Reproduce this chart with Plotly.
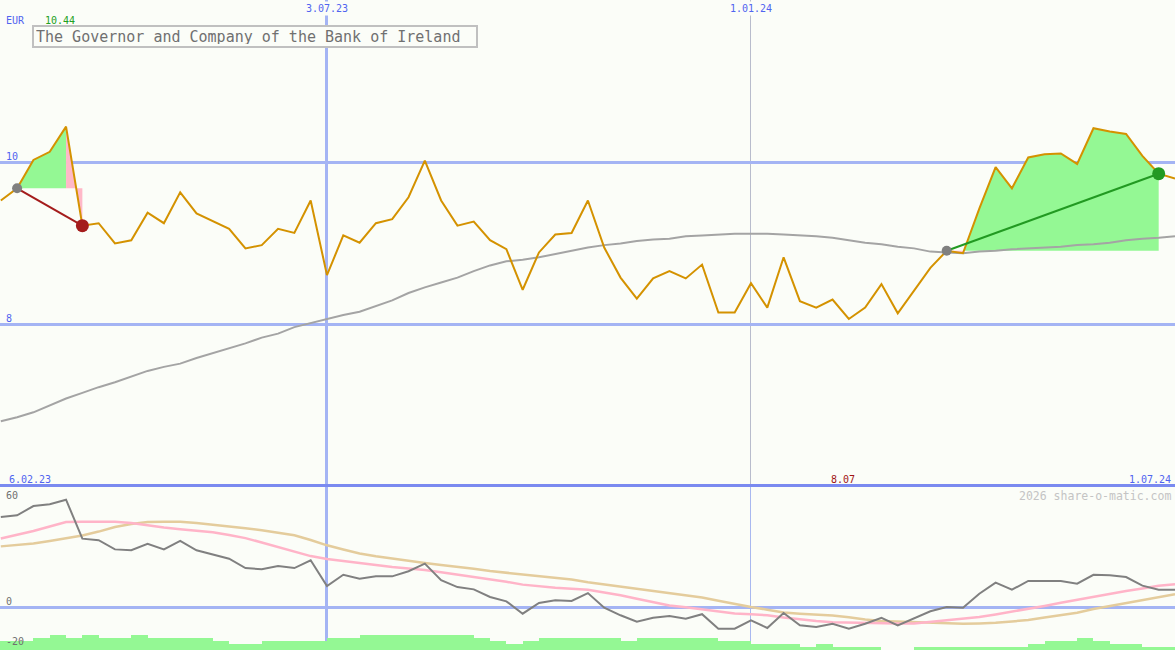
import pandas as pd
import plotly.graph_objects as go

# ---------------- data (weekly, Mondays) ----------------
dates = [d.strftime("%Y-%m-%d") for d in pd.date_range("2023-02-13", periods=73, freq="7D")]

price = [9.53, 9.68, 10.03, 10.13, 10.44, 9.22, 9.25, 9.00, 9.04, 9.38,
         9.25, 9.63, 9.37, 9.27, 9.18, 8.94, 8.98, 9.18, 9.13, 9.53,
         8.61, 9.10, 9.01, 9.25, 9.30, 9.57, 10.02, 9.53, 9.22, 9.27,
         9.04, 8.93, 8.43, 8.89, 9.11, 9.13, 9.53, 8.95, 8.58, 8.32,
         8.57, 8.66, 8.57, 8.74, 8.15, 8.15, 8.51, 8.21, 8.83, 8.29,
         8.21, 8.31, 8.07, 8.21, 8.50, 8.14, 8.42, 8.70, 8.91, 8.88,
         9.43, 9.94, 9.68, 10.06, 10.10, 10.11, 9.98, 10.42, 10.38, 10.35,
         10.08, 9.86, 9.80]

moving_avg = [6.81, 6.86, 6.92, 7.01, 7.09, 7.16, 7.23, 7.29, 7.36, 7.43,
              7.48, 7.52, 7.59, 7.65, 7.71, 7.77, 7.84, 7.89, 7.97, 8.02,
              8.07, 8.12, 8.16, 8.23, 8.30, 8.39, 8.46, 8.52, 8.58, 8.66,
              8.73, 8.78, 8.80, 8.83, 8.87, 8.91, 8.95, 8.98, 9.00, 9.03,
              9.05, 9.06, 9.09, 9.10, 9.11, 9.12, 9.12, 9.12, 9.11, 9.10,
              9.09, 9.07, 9.04, 9.01, 8.99, 8.96, 8.94, 8.90, 8.89, 8.88,
              8.90, 8.91, 8.93, 8.94, 8.95, 8.96, 8.98, 8.99, 9.01, 9.04,
              9.06, 9.07, 9.09]

oscillator = [51.5, 52.4, 57.7, 58.7, 61.3, 39.2, 38.3, 33.1, 32.6, 36.3,
              33.1, 37.9, 32.6, 30.1, 27.8, 22.5, 21.8, 23.7, 22.5, 26.9,
              12.3, 18.7, 16.5, 17.8, 17.8, 20.7, 25.0, 15.6, 11.7, 10.4,
              6.1, 3.6, -3.4, 2.7, 4.2, 3.8, 8.3, 0.0, -4.3, -7.9,
              -5.7, -4.7, -6.2, -3.7, -11.9, -11.9, -7.2, -11.5, -3.0, -10.0,
              -11.0, -9.1, -11.9, -9.1, -5.7, -10.0, -6.2, -2.0, 0.4, 0.0,
              7.9, 14.2, 10.2, 15.2, 15.2, 15.2, 13.6, 18.7, 18.4, 17.4,
              12.5, 10.2, 10.2]

signal_fast = [39.3, 41.3, 43.5, 46.1, 48.6, 48.8, 48.8, 48.8, 48.1, 46.7,
               45.5, 44.5, 43.6, 42.8, 41.3, 39.5, 37.0, 34.4, 31.6, 29.3,
               27.6, 26.4, 25.2, 24.1, 23.1, 22.2, 21.4, 20.1, 18.8, 17.7,
               16.3, 14.7, 13.1, 12.0, 11.3, 10.7, 10.2, 8.6, 7.1, 5.1,
               3.0, 1.2, 0.2, -0.9, -2.2, -3.3, -3.7, -4.3, -5.6, -6.7,
               -7.5, -8.2, -8.5, -8.7, -8.9, -9.0, -8.9, -8.0, -7.3, -6.4,
               -5.3, -3.8, -2.3, -0.6, 1.0, 2.8, 4.5, 6.5, 8.1, 9.5,
               10.9, 12.5, 13.3]

signal_slow = [34.8, 35.7, 36.5, 37.9, 39.3, 41.0, 43.2, 45.8, 47.5, 48.6,
               48.8, 48.8, 48.1, 47.2, 46.1, 45.1, 43.9, 42.7, 41.1, 38.4,
               35.4, 33.0, 30.8, 29.2, 27.8, 26.5, 25.4, 24.3, 23.3, 22.1,
               20.8, 19.8, 18.8, 17.8, 17.0, 16.0, 14.4, 13.2, 11.8, 10.6,
               9.4, 8.2, 7.0, 5.8, 4.0, 2.1, 0.4, -1.1, -2.7, -3.4,
               -3.9, -4.4, -5.4, -6.7, -7.5, -7.9, -8.3, -8.6, -8.9, -9.1,
               -8.9, -8.6, -7.8, -7.0, -5.6, -4.4, -2.9, -0.7, 1.0, 2.4,
               4.0, 5.8, 7.6]

volume = [3, 3, 3, 4, 5, 4, 5, 4, 4, 5,
          4, 4, 4, 4, 3, 2, 2, 3, 3, 3,
          3, 4, 4, 5, 5, 5, 5, 5, 5, 5,
          4, 3, 2, 3, 4, 4, 4, 4, 4, 3,
          4, 4, 4, 4, 4, 3, 3, 2, 2, 2,
          1, 2, 1, 1, 1, 0, 0, 1, 1, 1,
          1, 1, 1, 1, 2, 3, 3, 4, 3, 2,
          2, 1, 1]

# performance windows (start index, end index) into the weekly arrays
windows = [(1, 5), (58, 71)]

price_ticks = [8, 10]
osc_ticks = [60, 0, -20]
grid_major_date = "2023-07-03"
grid_minor_date = "2024-01-01"
title_text = "The Governor and Company of the Bank of Ireland"

# ---------------- styling ----------------
BG = "#fbfdf8"
FONT = "DejaVu Sans Mono"
BLUE_TXT = "#5064f0"
GRID = "#a4b4f4"
GREEN_FILL = "#94f894"
PINK_FILL = "#ffb8c8"
PRICE_COL = "#d49200"

H = 650
split = 1 - 487 / H

fig = go.Figure()

# ---- performance fills (segment-wise, colour by direction of segment end) ----
for i0, i1 in windows:
    base = price[i0]
    runs = []
    for i in range(i0, i1):
        up = price[i + 1] >= base
        if runs and runs[-1][0] == up:
            runs[-1][2] = i + 1
        else:
            runs.append([up, i, i + 1])
    gx, gy, px_, py_ = [], [], [], []
    for up, a, b in runs:
        xs = [dates[a]] + dates[a:b + 1] + [dates[b], dates[a]]
        ys = [base] + price[a:b + 1] + [base, base]
        if up:
            gx += xs + [None]; gy += ys + [None]
        else:
            px_ += xs + [None]; py_ += ys + [None]
    for xs, ys, col in ((gx, gy, GREEN_FILL), (px_, py_, PINK_FILL)):
        if xs:
            fig.add_trace(go.Scatter(x=xs, y=ys, mode="lines", fill="toself",
                                     fillcolor=col, line=dict(width=0, color=col),
                                     hoverinfo="skip", xaxis="x", yaxis="y"))

# ---- moving average ----
fig.add_trace(go.Scatter(x=dates, y=moving_avg, mode="lines",
                         line=dict(color="#a4a4a4", width=2), xaxis="x", yaxis="y"))
# ---- price ----
fig.add_trace(go.Scatter(x=dates, y=price, mode="lines",
                         line=dict(color=PRICE_COL, width=2), xaxis="x", yaxis="y"))

# ---- performance lines and dots ----
for i0, i1 in windows:
    up = price[i1] >= price[i0]
    col = "#229a22" if up else "#a41c1c"
    fig.add_trace(go.Scatter(x=[dates[i0], dates[i1]], y=[price[i0], price[i1]],
                             mode="lines", line=dict(color=col, width=2),
                             xaxis="x", yaxis="y"))
    fig.add_trace(go.Scatter(x=[dates[i0]], y=[price[i0]], mode="markers",
                             marker=dict(color="#808080", size=10), xaxis="x", yaxis="y"))
    fig.add_trace(go.Scatter(x=[dates[i1]], y=[price[i1]], mode="markers",
                             marker=dict(color=col, size=13), xaxis="x", yaxis="y"))

# ---- lower panel: volume bars ----
bar_x = [(pd.Timestamp(d) - pd.Timedelta(days=3.5)).strftime("%Y-%m-%d %H:%M") for d in dates]
fig.add_trace(go.Bar(x=bar_x, y=volume, width=7 * 24 * 3600 * 1000,
                     marker=dict(color=GREEN_FILL, line=dict(width=0)),
                     xaxis="x2", yaxis="y3"))

# ---- lower panel: oscillator lines ----
fig.add_trace(go.Scatter(x=dates, y=signal_slow, mode="lines",
                         line=dict(color="#e4cc9c", width=2.5), xaxis="x2", yaxis="y2"))
fig.add_trace(go.Scatter(x=dates, y=signal_fast, mode="lines",
                         line=dict(color="#ffb4c8", width=2.5), xaxis="x2", yaxis="y2"))
fig.add_trace(go.Scatter(x=dates, y=oscillator, mode="lines",
                         line=dict(color="#808080", width=2), xaxis="x2", yaxis="y2"))

x_start = (pd.Timestamp("2023-02-06") + pd.Timedelta(days=0.95 * 7)).strftime("%Y-%m-%d %H:%M")
x_end = "2024-07-01"

common_x = dict(type="date", range=[x_start, x_end], showticklabels=False, ticks="",
                tickmode="array", tickvals=[grid_major_date], showgrid=True,
                gridcolor=GRID, gridwidth=3, zeroline=False, fixedrange=True)

fig.update_layout(
    width=1175, height=H,
    margin=dict(l=0, r=0, t=0, b=0),
    paper_bgcolor=BG, plot_bgcolor=BG,
    showlegend=False, hovermode=False, bargap=0,
    font=dict(family=FONT, size=10),
    xaxis=dict(**common_x, domain=[0, 1], anchor="y",
               minor=dict(tickmode="array", tickvals=[grid_minor_date], showgrid=True,
                          gridcolor="#b8bccc", gridwidth=1)),
    xaxis2=dict(**common_x, domain=[0, 1], anchor="y2", matches="x", side="top",
                showline=True, linecolor="#7a8af0", linewidth=3,
                minor=dict(tickmode="array", tickvals=[grid_minor_date], showgrid=True,
                           gridcolor="#a8b8f0", gridwidth=1)),
    yaxis=dict(domain=[split, 1], range=[6, 12], tickmode="array", tickvals=price_ticks,
               showticklabels=False, ticks="",
               showgrid=True, gridcolor=GRID, gridwidth=3, zeroline=False, fixedrange=True),
    yaxis2=dict(domain=[0, split], range=[-24.0, 68.5], tickmode="array",
                tickvals=osc_ticks, showticklabels=False, ticks="",
                showgrid=False, zeroline=True, zerolinecolor=GRID, zerolinewidth=3,
                fixedrange=True),
    yaxis3=dict(overlaying="y2", range=[0, 163 / 3], visible=False, fixedrange=True),
)

def py(pix):
    return 1 - pix / H

ann = [
    dict(text="EUR", x=4 / 1175, xref="paper", xanchor="left", y=py(20), yref="paper",
         font=dict(color=BLUE_TXT, size=10)),
    dict(text=f"{max(price):.2f}", x=dates[price.index(max(price))], xref="x", xanchor="center",
         xshift=-6, y=py(20), yref="paper", font=dict(color="#22a022", size=10)),
    dict(text="3.07.23", x=grid_major_date, xref="x", xanchor="center", y=py(9), yref="paper",
         font=dict(color=BLUE_TXT, size=10), bgcolor=BG),
    dict(text="1.01.24", x=grid_minor_date, xref="x", xanchor="center", y=py(9), yref="paper",
         font=dict(color=BLUE_TXT, size=10), bgcolor=BG),
    dict(text="6.02.23", x=7 / 1175, xref="paper", xanchor="left", y=py(479), yref="paper",
         font=dict(color=BLUE_TXT, size=10)),
    dict(text=f"{min(price):.2f}", x=dates[price.index(min(price))], xref="x", xanchor="center",
         xshift=-6, y=py(479), yref="paper", font=dict(color="#a01414", size=10)),
    dict(text="1.07.24", x=1173 / 1175, xref="paper", xanchor="right", y=py(479), yref="paper",
         font=dict(color=BLUE_TXT, size=10)),
    dict(text="2026 share-o-matic.com", x=1173 / 1175, xref="paper", xanchor="right",
         y=py(496), yref="paper", font=dict(color="#c4c4c4", size=11.5)),
    dict(text=title_text, x=32 / 1175, xref="paper", xanchor="left", y=py(25), yref="paper",
         yanchor="top", align="left", width=438, height=15, borderpad=2, borderwidth=2,
         bordercolor="#c0c0c0", bgcolor=BG, font=dict(color="#707070", size=15)),
]
for v in price_ticks:
    ann.append(dict(text=str(v), x=4 / 1175, xref="paper", xanchor="left", y=v, yref="y",
                    yshift=6, font=dict(color=BLUE_TXT, size=10)))
for v, shift in zip(osc_ticks, [6, 6, 1]):
    ann.append(dict(text=str(v), x=4 / 1175, xref="paper", xanchor="left", y=v, yref="y2",
                    yshift=shift, font=dict(color="#707070", size=10)))

for a in ann:
    a.setdefault("yanchor", "middle")
    a["showarrow"] = False
    fig.add_annotation(**a)

fig.write_html("out.html", config=dict(displayModeBar=False),
               post_script="document.body.style.margin='0';document.body.style.padding='0';"
                           "document.body.style.overflow='hidden';")
